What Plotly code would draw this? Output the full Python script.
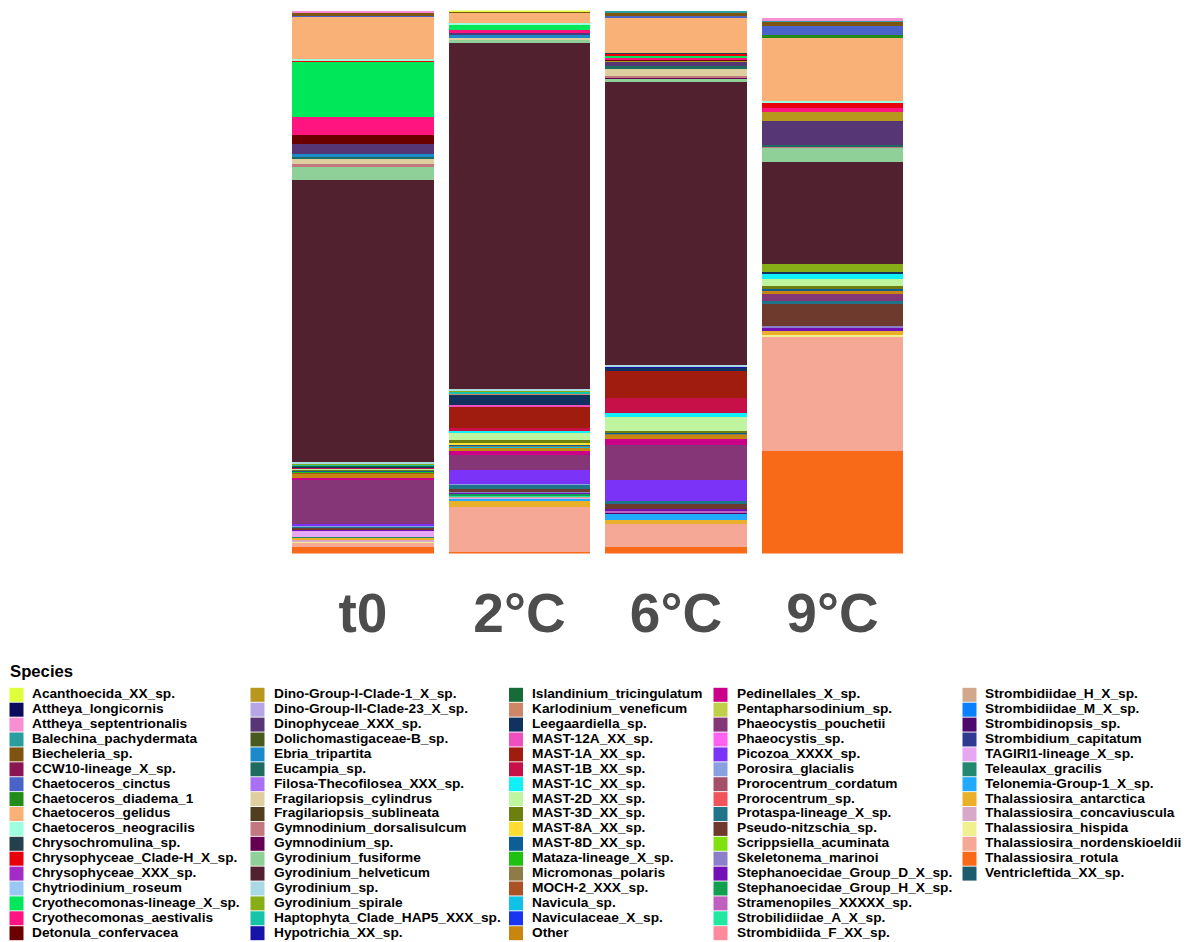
import plotly.graph_objects as go

W, H = 1190, 942

species = [
    "Acanthoecida_XX_sp.", "Attheya_longicornis", "Attheya_septentrionalis", "Balechina_pachydermata",
    "Biecheleria_sp.", "CCW10-lineage_X_sp.", "Chaetoceros_cinctus", "Chaetoceros_diadema_1",
    "Chaetoceros_gelidus", "Chaetoceros_neogracilis", "Chrysochromulina_sp.", "Chrysophyceae_Clade-H_X_sp.",
    "Chrysophyceae_XXX_sp.", "Chytriodinium_roseum", "Cryothecomonas-lineage_X_sp.", "Cryothecomonas_aestivalis",
    "Detonula_confervacea",
    "Dino-Group-I-Clade-1_X_sp.", "Dino-Group-II-Clade-23_X_sp.", "Dinophyceae_XXX_sp.", "Dolichomastigaceae-B_sp.",
    "Ebria_tripartita", "Eucampia_sp.", "Filosa-Thecofilosea_XXX_sp.", "Fragilariopsis_cylindrus",
    "Fragilariopsis_sublineata", "Gymnodinium_dorsalisulcum", "Gymnodinium_sp.", "Gyrodinium_fusiforme",
    "Gyrodinium_helveticum", "Gyrodinium_sp.", "Gyrodinium_spirale", "Haptophyta_Clade_HAP5_XXX_sp.",
    "Hypotrichia_XX_sp.",
    "Islandinium_tricingulatum", "Karlodinium_veneficum", "Leegaardiella_sp.", "MAST-12A_XX_sp.",
    "MAST-1A_XX_sp.", "MAST-1B_XX_sp.", "MAST-1C_XX_sp.", "MAST-2D_XX_sp.", "MAST-3D_XX_sp.",
    "MAST-8A_XX_sp.", "MAST-8D_XX_sp.", "Mataza-lineage_X_sp.", "Micromonas_polaris", "MOCH-2_XXX_sp.",
    "Navicula_sp.", "Naviculaceae_X_sp.", "Other",
    "Pedinellales_X_sp.", "Pentapharsodinium_sp.", "Phaeocystis_pouchetii", "Phaeocystis_sp.",
    "Picozoa_XXXX_sp.", "Porosira_glacialis", "Prorocentrum_cordatum", "Prorocentrum_sp.",
    "Protaspa-lineage_X_sp.", "Pseudo-nitzschia_sp.", "Scrippsiella_acuminata", "Skeletonema_marinoi",
    "Stephanoecidae_Group_D_X_sp.", "Stephanoecidae_Group_H_X_sp.", "Stramenopiles_XXXXX_sp.",
    "Strobilidiidae_A_X_sp.", "Strombidiida_F_XX_sp.",
    "Strombidiidae_H_X_sp.", "Strombidiidae_M_X_sp.", "Strombidinopsis_sp.", "Strombidium_capitatum",
    "TAGIRI1-lineage_X_sp.", "Teleaulax_gracilis", "Telonemia-Group-1_X_sp.", "Thalassiosira_antarctica",
    "Thalassiosira_concaviuscula", "Thalassiosira_hispida", "Thalassiosira_nordenskioeldii",
    "Thalassiosira_rotula", "Ventricleftida_XX_sp.",
]

colors = [
    "#DFFF3A", "#0B0B5E", "#F78FD2", "#2A9D9F", "#7F5310", "#8B1552", "#4A63C9", "#238B18",
    "#F9B177", "#9EFFDF", "#24404C", "#E8000B", "#A32BC8", "#99C8F5", "#00E859", "#FF1480",
    "#6B0000",
    "#B8971F", "#B7A6E6", "#563674", "#4A5A1F", "#1A8ACB", "#1E6B60", "#A970F5", "#DFCFA0",
    "#4F3F1F", "#C37880", "#650052", "#8FCF98", "#52212F", "#A9DAE3", "#87AE17", "#16C4AA",
    "#1712A8",
    "#176B36", "#CE8766", "#11315F", "#EE50C0", "#9F1C0F", "#C70F48", "#0FF0F8", "#C0F5A0",
    "#6C7F0F", "#FFDD33", "#0E5E96", "#20C010", "#8F7B47", "#AA5226", "#10C0E5", "#1A35F0",
    "#C8860F",
    "#CC0088", "#C0CF48", "#843676", "#FF62F0", "#7A33F7", "#88A0E0", "#A5506A", "#F05359",
    "#1F748A", "#6E3A2D", "#80E010", "#8A7FC8", "#7210B8", "#10A050", "#C060C0", "#20E8A0",
    "#FF8A9C",
    "#D2A88C", "#0A80FF", "#4D0A6B", "#2F3A90", "#E6A8F2", "#228870", "#22AAFF", "#EBB02A",
    "#D8A8C8", "#F0F090", "#F5A896", "#F86A18", "#1C5C6C",
]

samples = ["t0", "2°C", "6°C", "9°C"]

# relative abundances (fractions); missing species = 0
t0 = {
    "Attheya_septentrionalis": 0.0015, "Balechina_pachydermata": 0.0005, "Biecheleria_sp.": 0.007,
    "Chaetoceros_cinctus": 0.0015, "Chaetoceros_gelidus": 0.079, "Chaetoceros_neogracilis": 0.002,
    "Chrysophyceae_Clade-H_X_sp.": 0.0005, "Cryothecomonas-lineage_X_sp.": 0.104,
    "Cryothecomonas_aestivalis": 0.033, "Detonula_confervacea": 0.017, "Dinophyceae_XXX_sp.": 0.018,
    "Ebria_tripartita": 0.006, "Eucampia_sp.": 0.001, "Fragilariopsis_cylindrus": 0.012,
    "Gymnodinium_dorsalisulcum": 0.003, "Gyrodinium_fusiforme": 0.026, "Gyrodinium_helveticum": 0.519,
    "Gyrodinium_sp.": 0.001, "Gyrodinium_spirale": 0.003, "Haptophyta_Clade_HAP5_XXX_sp.": 0.001,
    "Hypotrichia_XX_sp.": 0.001, "Islandinium_tricingulatum": 0.001, "Karlodinium_veneficum": 0.001,
    "Leegaardiella_sp.": 0.001, "MAST-1A_XX_sp.": 0.001, "MAST-1B_XX_sp.": 0.001, "MAST-1C_XX_sp.": 0.0005,
    "MAST-2D_XX_sp.": 0.001, "MAST-3D_XX_sp.": 0.002, "MAST-8A_XX_sp.": 0.001, "MAST-8D_XX_sp.": 0.001,
    "Mataza-lineage_X_sp.": 0.001, "Micromonas_polaris": 0.0015, "MOCH-2_XXX_sp.": 0.0005,
    "Navicula_sp.": 0.0005, "Other": 0.010, "Pedinellales_X_sp.": 0.001, "Phaeocystis_pouchetii": 0.083,
    "Picozoa_XXXX_sp.": 0.0025, "Porosira_glacialis": 0.0015, "Protaspa-lineage_X_sp.": 0.0025,
    "Pseudo-nitzschia_sp.": 0.002, "Skeletonema_marinoi": 0.001, "Stephanoecidae_Group_D_X_sp.": 0.001,
    "Strombidiida_F_XX_sp.": 0.001, "Strombidiidae_H_X_sp.": 0.0005, "TAGIRI1-lineage_X_sp.": 0.012,
    "Teleaulax_gracilis": 0.001, "Thalassiosira_antarctica": 0.0055, "Thalassiosira_concaviuscula": 0.001,
    "Thalassiosira_hispida": 0.001, "Thalassiosira_nordenskioeldii": 0.010, "Thalassiosira_rotula": 0.012,
}
c2 = {
    "Acanthoecida_XX_sp.": 0.002, "Biecheleria_sp.": 0.004, "Chaetoceros_gelidus": 0.018,
    "Chaetoceros_neogracilis": 0.001, "Chrysophyceae_Clade-H_X_sp.": 0.001,
    "Cryothecomonas-lineage_X_sp.": 0.011, "Cryothecomonas_aestivalis": 0.003, "Detonula_confervacea": 0.001,
    "Dinophyceae_XXX_sp.": 0.005, "Ebria_tripartita": 0.003, "Eucampia_sp.": 0.001,
    "Fragilariopsis_cylindrus": 0.003, "Gymnodinium_dorsalisulcum": 0.001, "Gyrodinium_fusiforme": 0.006,
    "Gyrodinium_helveticum": 0.638, "Gyrodinium_sp.": 0.001, "Gyrodinium_spirale": 0.005,
    "Haptophyta_Clade_HAP5_XXX_sp.": 0.001, "Hypotrichia_XX_sp.": 0.0005, "Islandinium_tricingulatum": 0.0005,
    "Karlodinium_veneficum": 0.0005, "Leegaardiella_sp.": 0.0215, "MAST-12A_XX_sp.": 0.0005,
    "MAST-1A_XX_sp.": 0.042, "MAST-1B_XX_sp.": 0.004, "MAST-1C_XX_sp.": 0.005, "MAST-2D_XX_sp.": 0.012,
    "MAST-3D_XX_sp.": 0.006, "MAST-8A_XX_sp.": 0.001, "MAST-8D_XX_sp.": 0.002, "Mataza-lineage_X_sp.": 0.001,
    "Micromonas_polaris": 0.002, "Navicula_sp.": 0.0005, "Other": 0.008, "Pedinellales_X_sp.": 0.008,
    "Phaeocystis_pouchetii": 0.028, "Picozoa_XXXX_sp.": 0.0245, "Porosira_glacialis": 0.001,
    "Protaspa-lineage_X_sp.": 0.009, "Pseudo-nitzschia_sp.": 0.003, "Skeletonema_marinoi": 0.002,
    "Stephanoecidae_Group_D_X_sp.": 0.003, "Stephanoecidae_Group_H_X_sp.": 0.003,
    "Strobilidiidae_A_X_sp.": 0.001, "Strombidiida_F_XX_sp.": 0.001, "Strombidiidae_H_X_sp.": 0.001,
    "Strombidiidae_M_X_sp.": 0.001, "TAGIRI1-lineage_X_sp.": 0.001, "Telonemia-Group-1_X_sp.": 0.005,
    "Thalassiosira_antarctica": 0.0115, "Thalassiosira_nordenskioeldii": 0.084, "Thalassiosira_rotula": 0.002,
}
c6 = {
    "Balechina_pachydermata": 0.002, "Biecheleria_sp.": 0.006, "Chaetoceros_cinctus": 0.002,
    "Chaetoceros_gelidus": 0.066, "Chrysochromulina_sp.": 0.001, "Chrysophyceae_Clade-H_X_sp.": 0.005,
    "Cryothecomonas-lineage_X_sp.": 0.004, "Cryothecomonas_aestivalis": 0.002, "Detonula_confervacea": 0.002,
    "Dino-Group-I-Clade-1_X_sp.": 0.002, "Dinophyceae_XXX_sp.": 0.009, "Eucampia_sp.": 0.003,
    "Fragilariopsis_cylindrus": 0.015, "Gymnodinium_dorsalisulcum": 0.002, "Gymnodinium_sp.": 0.001,
    "Gyrodinium_fusiforme": 0.0075, "Gyrodinium_helveticum": 0.522, "Gyrodinium_sp.": 0.002,
    "Hypotrichia_XX_sp.": 0.002, "Leegaardiella_sp.": 0.0075, "MAST-1A_XX_sp.": 0.050,
    "MAST-1B_XX_sp.": 0.026, "MAST-1C_XX_sp.": 0.009, "MAST-2D_XX_sp.": 0.024, "MAST-3D_XX_sp.": 0.003,
    "MAST-8D_XX_sp.": 0.002, "Micromonas_polaris": 0.002, "Other": 0.009, "Pedinellales_X_sp.": 0.0105,
    "Phaeocystis_pouchetii": 0.064, "Picozoa_XXXX_sp.": 0.040, "Protaspa-lineage_X_sp.": 0.005,
    "Pseudo-nitzschia_sp.": 0.009, "Stephanoecidae_Group_D_X_sp.": 0.004, "Stramenopiles_XXXXX_sp.": 0.001,
    "Strombidiida_F_XX_sp.": 0.001, "Strombidinopsis_sp.": 0.001, "Strombidium_capitatum": 0.001,
    "Telonemia-Group-1_X_sp.": 0.012, "Thalassiosira_antarctica": 0.008,
    "Thalassiosira_nordenskioeldii": 0.042, "Thalassiosira_rotula": 0.012,
}
c9 = {
    "Attheya_septentrionalis": 0.003, "Balechina_pachydermata": 0.002, "Biecheleria_sp.": 0.0105,
    "Chaetoceros_cinctus": 0.0165, "Chaetoceros_diadema_1": 0.003, "Chaetoceros_gelidus": 0.117,
    "Chaetoceros_neogracilis": 0.005, "Chrysophyceae_Clade-H_X_sp.": 0.008,
    "Cryothecomonas_aestivalis": 0.0086, "Dino-Group-I-Clade-1_X_sp.": 0.0153, "Dinophyceae_XXX_sp.": 0.044,
    "Eucampia_sp.": 0.002, "Gymnodinium_dorsalisulcum": 0.004, "Gyrodinium_fusiforme": 0.0264,
    "Gyrodinium_helveticum": 0.188, "Gyrodinium_spirale": 0.014, "Leegaardiella_sp.": 0.002,
    "MAST-1A_XX_sp.": 0.001, "MAST-1C_XX_sp.": 0.0098, "MAST-2D_XX_sp.": 0.0135, "MAST-3D_XX_sp.": 0.005,
    "MAST-8D_XX_sp.": 0.002, "Other": 0.008, "Phaeocystis_pouchetii": 0.0123,
    "Protaspa-lineage_X_sp.": 0.006, "Pseudo-nitzschia_sp.": 0.040, "Skeletonema_marinoi": 0.002,
    "Stephanoecidae_Group_D_X_sp.": 0.0074, "Thalassiosira_antarctica": 0.0068,
    "Thalassiosira_hispida": 0.005, "Thalassiosira_nordenskioeldii": 0.210, "Thalassiosira_rotula": 0.188,
}

FONT = "Liberation Sans, Arial, sans-serif"
fig = go.Figure()

# ggplot stacks the first factor level on top -> add traces in reverse order
for name, col in reversed(list(zip(species, colors))):
    fig.add_trace(go.Bar(
        x=samples,
        y=[t0.get(name, 0), c2.get(name, 0), c6.get(name, 0), c9.get(name, 0)],
        name=name, marker=dict(color=col, line=dict(width=0)),
        showlegend=False, xaxis="x", yaxis="y",
    ))

# legend drawn as swatches + labels on an auxiliary pixel-space axis
rows_per_col = 17
sw_left = [9.5, 250.5, 509, 713.5, 962.5]
txt_left = [32, 274, 532, 737, 985]
row0, row_step = 694.8, 14.9
sx, sy, tx = [], [], []
for i in range(len(species)):
    c, r = divmod(i, rows_per_col)
    sx.append(sw_left[c] + 7)
    sy.append(row0 + r * row_step)
    tx.append(txt_left[c])

fig.add_trace(go.Scatter(
    x=sx, y=sy, mode="markers", xaxis="x2", yaxis="y2",
    marker=dict(symbol="square", size=14, color=colors, line=dict(width=0)),
    showlegend=False, hoverinfo="skip", cliponaxis=False,
))
fig.add_trace(go.Scatter(
    x=tx, y=sy, mode="text", text=species, textposition="middle right",
    textfont=dict(family=FONT, size=13.7, color="#000000", weight="bold"),
    xaxis="x2", yaxis="y2", showlegend=False, hoverinfo="skip", cliponaxis=False,
))

fig.add_annotation(
    text="<b>Species</b>", xref="paper", yref="paper", x=8 / W, y=1 - 671 / H,
    xanchor="left", yanchor="middle", showarrow=False,
    font=dict(family=FONT, size=16.7, color="#000000"),
)

fig.update_layout(
    width=W, height=H, margin=dict(l=0, r=0, t=0, b=0),
    paper_bgcolor="white", plot_bgcolor="rgba(0,0,0,0)",
    barmode="stack", bargap=0.095,
    xaxis=dict(domain=[284.75 / W, 910.75 / W], range=[-0.5, 3.5], showgrid=False, zeroline=False,
               showline=False, ticks="", automargin=False, ticklabelstandoff=22,
               tickfont=dict(family=FONT, size=55, color="#4D4D4D", weight="bold")),
    yaxis=dict(domain=[1 - 553.5 / H, 1 - 10.5 / H], range=[0, 1], showgrid=False, zeroline=False,
               showline=False, showticklabels=False, ticks="", automargin=False),
    xaxis2=dict(domain=[0, 1], range=[0, W], visible=False, anchor="y2", fixedrange=True),
    yaxis2=dict(domain=[0, 1], range=[H, 0], visible=False, anchor="x2", fixedrange=True),
    font=dict(family=FONT),
)

fig.write_html("out.html")
